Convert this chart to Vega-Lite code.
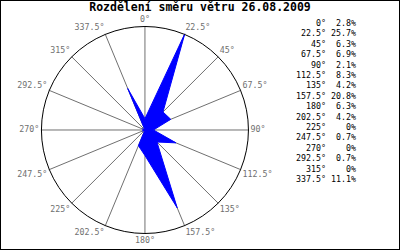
{
  "$schema": "https://vega.github.io/schema/vega-lite/v6.json",
  "width": 400,
  "height": 250,
  "autosize": "none",
  "padding": 0,
  "background": "white",
  "view": {"stroke": "black", "strokeWidth": 2},
  "title": {
    "text": "Rozdělení směru větru 26.08.2009",
    "font": "DejaVu Sans Mono",
    "fontSize": 11.5,
    "fontWeight": "bold",
    "color": "black",
    "anchor": "middle",
    "offset": -13
  },
  "data": {
    "values": [
      {"dir": 0, "pct": 2.8, "deg": "0°", "pctLabel": "2.8%"},
      {"dir": 22.5, "pct": 25.7, "deg": "22.5°", "pctLabel": "25.7%"},
      {"dir": 45, "pct": 6.3, "deg": "45°", "pctLabel": "6.3%"},
      {"dir": 67.5, "pct": 6.9, "deg": "67.5°", "pctLabel": "6.9%"},
      {"dir": 90, "pct": 2.1, "deg": "90°", "pctLabel": "2.1%"},
      {"dir": 112.5, "pct": 8.3, "deg": "112.5°", "pctLabel": "8.3%"},
      {"dir": 135, "pct": 4.2, "deg": "135°", "pctLabel": "4.2%"},
      {"dir": 157.5, "pct": 20.8, "deg": "157.5°", "pctLabel": "20.8%"},
      {"dir": 180, "pct": 6.3, "deg": "180°", "pctLabel": "6.3%"},
      {"dir": 202.5, "pct": 4.2, "deg": "202.5°", "pctLabel": "4.2%"},
      {"dir": 225, "pct": 0, "deg": "225°", "pctLabel": "0%"},
      {"dir": 247.5, "pct": 0.7, "deg": "247.5°", "pctLabel": "0.7%"},
      {"dir": 270, "pct": 0, "deg": "270°", "pctLabel": "0%"},
      {"dir": 292.5, "pct": 0.7, "deg": "292.5°", "pctLabel": "0.7%"},
      {"dir": 315, "pct": 0, "deg": "315°", "pctLabel": "0%"},
      {"dir": 337.5, "pct": 11.1, "deg": "337.5°", "pctLabel": "11.1%"}
    ]
  },
  "resolve": {"scale": {"x": "independent", "y": "independent"}},
  "layer": [
    {
      "transform": [
        {"calculate": "datum.pct * sin(datum.dir * PI / 180)", "as": "px"},
        {"calculate": "datum.pct * cos(datum.dir * PI / 180)", "as": "py"},
        {"calculate": "25.7 * sin(datum.dir * PI / 180)", "as": "sx"},
        {"calculate": "25.7 * cos(datum.dir * PI / 180)", "as": "sy"},
        {"calculate": "26.1 * sin(datum.dir * PI / 180)", "as": "lx"},
        {"calculate": "26.1 * cos(datum.dir * PI / 180)", "as": "ly"}
      ],
      "layer": [
        {
          "mark": {"type": "rule", "color": "#707070", "strokeWidth": 1},
          "encoding": {
            "x": {"field": "sx", "type": "quantitative", "scale": {"domain": [-35.8, 63.0], "nice": false, "zero": false}, "axis": null},
            "y": {"field": "sy", "type": "quantitative", "scale": {"domain": [-29.65, 32.12], "nice": false, "zero": false}, "axis": null},
            "x2": {"datum": 0},
            "y2": {"datum": 0}
          }
        },
        {
          "mark": {"type": "line", "interpolate": "linear-closed", "fill": "#0000ff", "stroke": "#0000ff", "strokeWidth": 1},
          "encoding": {
            "x": {"field": "px", "type": "quantitative"},
            "y": {"field": "py", "type": "quantitative"},
            "order": {"field": "dir", "type": "quantitative"}
          }
        },
        {
          "transform": [{"filter": "datum.dir == 0"}],
          "mark": {"type": "point", "shape": "circle", "filled": false, "stroke": "black", "strokeWidth": 1, "size": 42849, "opacity": 1},
          "encoding": {
            "x": {"datum": 0, "type": "quantitative"},
            "y": {"datum": 0, "type": "quantitative"}
          }
        },
        {
          "mark": {
            "type": "text",
            "font": "DejaVu Sans Mono",
            "fontSize": 8.3,
            "color": "#707070",
            "align": {"expr": "datum.dir == 0 || datum.dir == 180 ? 'center' : (datum.dir < 180 ? 'left' : 'right')"},
            "baseline": {"expr": "datum.dir == 90 || datum.dir == 270 ? 'middle' : ((datum.dir < 90 || datum.dir > 270) ? 'bottom' : 'top')"}
          },
          "encoding": {
            "x": {"field": "lx", "type": "quantitative"},
            "y": {"field": "ly", "type": "quantitative"},
            "text": {"field": "deg"}
          }
        }
      ]
    },
    {
      "layer": [
        {
          "mark": {"type": "text", "font": "DejaVu Sans Mono", "fontSize": 8.3, "color": "black", "align": "right", "baseline": "middle"},
          "encoding": {
            "x": {"datum": 1, "type": "quantitative", "scale": {"domain": [-9.8667, 3.4667], "nice": false, "zero": false}, "axis": null},
            "y": {"field": "dir", "type": "quantitative", "scale": {"domain": [-51.92, 489.0], "nice": false, "zero": false, "reverse": true}, "axis": null},
            "text": {"field": "deg"}
          }
        },
        {
          "mark": {"type": "text", "font": "DejaVu Sans Mono", "fontSize": 8.3, "color": "black", "align": "right", "baseline": "middle"},
          "encoding": {
            "x": {"datum": 2, "type": "quantitative"},
            "y": {"field": "dir", "type": "quantitative"},
            "text": {"field": "pctLabel"}
          }
        }
      ]
    }
  ]
}
